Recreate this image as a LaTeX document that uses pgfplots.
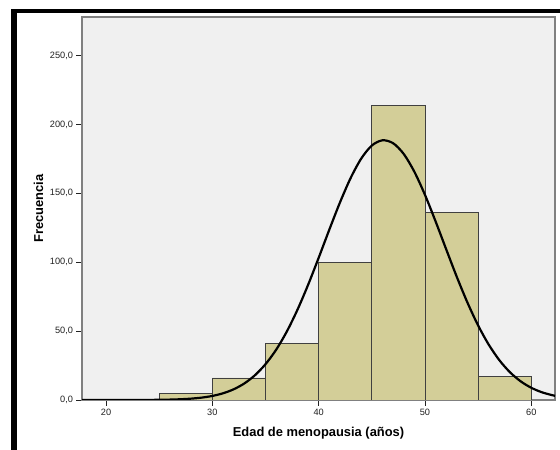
\documentclass[border=0pt]{standalone}
\usepackage{pgfplots}
\pgfplotsset{compat=1.18}
\usepackage{fontspec}
\setmainfont{Liberation Sans}
\definecolor{barfill}{HTML}{D3CE98}
\definecolor{bgfill}{HTML}{F0F0F0}
\definecolor{framec}{HTML}{808080}
\definecolor{tickc}{HTML}{222222}
\begin{document}
\begin{tikzpicture}[x=1pt,y=1pt]
\path[use as bounding box, fill=white] (0,0) rectangle (560,450);
\fill[black] (11,437) rectangle (560,440.5);
\fill[black] (11,0) rectangle (16.5,440.5);
\begin{axis}[
  at={(82pt,50pt)}, anchor=south west,
  scale only axis, width=473pt, height=383pt,
  xmin=17.74, xmax=62.23, ymin=0, ymax=278,
  axis background/.style={fill=bgfill},
  axis line style={draw=framec, line width=1.2pt},
  xtick={20,30,40,50,60},
  ytick={0,50,100,150,200,250},
  tick align=outside,
  xtick pos=bottom, ytick pos=left,
  major tick length=5.5pt,
  tick style={draw=tickc, line width=0.9pt},
  /pgf/number format/assume math mode=true,
  ticklabel style={font=\fontsize{9.2}{11}\selectfont, text=tickc},
  yticklabel style={/pgf/number format/.cd, fixed, fixed zerofill, precision=1, use comma, 1000 sep={}},
  xticklabel style={/pgf/number format/.cd, fixed, precision=0, 1000 sep={}},
  xlabel={\textbf{Edad de menopausia (años)}},
  ylabel={\textbf{Frecuencia}},
  label style={font=\fontsize{12.9}{15}\selectfont},
  xlabel style={at={(axis description cs:0.5,0)}, anchor=center, yshift=-33pt},
  ylabel style={at={(axis description cs:0,0.5)}, anchor=center, yshift=43.5pt},
  clip=true,
]
\addplot[ybar interval, fill=barfill, draw=black!75, line width=0.8pt, mark=none]
  coordinates {(25,5) (30,16) (35,41) (40,100) (45,214) (50,136) (55,17) (60,17)};
\addplot[smooth, black, line width=2.2pt, mark=none] coordinates {
(17.74,0.0005) (20,0.0035) (22,0.017) (24,0.075) (25,0.151) (26,0.291) (27,0.545)
(28,0.987) (29,1.73) (30,2.95) (31,4.86) (32,7.75) (33,11.97) (34,17.92)
(35,25.99) (36,36.47) (37,49.64) (38,65.41) (39,83.47) (40,103.2) (41,123.6)
(42,143.3) (43,161.0) (44,175.2) (45,184.7) (46,188.5) (47,186.4) (48,178.6)
(49,165.7) (50,148.9) (51,129.6) (52,109.3) (53,89.26) (54,70.62) (55,54.10)
(56,40.15) (57,28.86) (58,20.10) (59,13.56) (60,8.86) (61,5.61) (62,3.44) (62.23,3.06)};
\end{axis}
\end{tikzpicture}
\end{document}
